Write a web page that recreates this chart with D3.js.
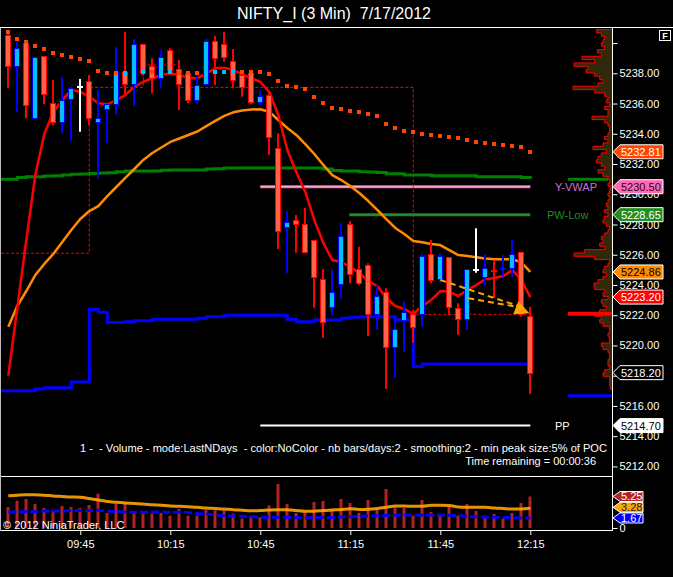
<!DOCTYPE html>
<html><head><meta charset="utf-8">
<script src="https://cdn.jsdelivr.net/npm/d3@7/dist/d3.min.js"></script>
<style>
html,body{margin:0;padding:0;background:#000;overflow:hidden}
svg{display:block}
text{font-family:"Liberation Sans",Arial,Helvetica,sans-serif}
</style></head><body>
<svg id="chart" width="673" height="577"></svg>
<script>
// ---------------- DATA ----------------
const title = "NIFTY_I (3 Min)  7/17/2012";
const barTimes = ["09:21","09:24","09:27","09:30","09:33","09:36","09:39","09:42","09:45","09:48","09:51","09:54","09:57",
"10:00","10:03","10:06","10:09","10:12","10:15","10:18","10:21","10:24","10:27","10:30","10:33","10:36","10:39","10:42","10:45","10:48","10:51","10:54","10:57",
"11:00","11:03","11:06","11:09","11:12","11:15","11:18","11:21","11:24","11:27","11:30","11:33","11:36","11:39","11:42","11:45","11:48","11:51","11:54","11:57",
"12:00","12:03","12:06","12:09","12:12","12:15"];
const openP = [5240.53,5238.50,5239.98,5235.02,5239.14,5236.02,5234.76,5236.30,5237.07,5237.49,
5234.80,5235.62,5235.95,5238.11,5237.27,5239.92,5238.50,5237.71,5239.52,5238.26,
5238.00,5236.23,5237.27,5240.14,5239.92,5238.81,5237.89,5238.00,5236.12,5236.56,
5233.04,5227.85,5228.30,5228.03,5226.98,5224.40,5222.52,5224.04,5228.03,5225.04,
5225.32,5222.06,5223.52,5219.88,5221.68,5222.06,5222.06,5226.03,5224.38,5225.83,
5222.46,5221.75,5224.99,5224.55,5225.01,5225.03,5225.14,5226.16,5221.95];
const highP = [5240.75,5240.09,5240.14,5239.10,5239.14,5237.56,5237.78,5237.11,5237.62,5237.89,
5236.90,5235.95,5239.72,5240.75,5240.27,5239.92,5238.99,5239.54,5239.65,5238.88,
5238.11,5237.89,5240.27,5240.49,5240.75,5239.61,5238.11,5238.22,5236.90,5236.78,
5234.03,5228.89,5228.63,5229.11,5226.98,5225.06,5225.06,5228.08,5228.23,5226.53,
5225.43,5224.00,5223.78,5221.68,5222.94,5222.35,5226.03,5226.98,5226.10,5225.83,
5222.79,5225.04,5227.75,5226.03,5225.65,5225.98,5227.02,5226.16,5222.56];
const lowP = [5237.01,5235.42,5235.02,5235.02,5235.95,5234.58,5234.03,5233.54,5234.14,5234.58,
5231.06,5233.37,5235.29,5236.56,5235.86,5237.89,5236.68,5237.05,5238.11,5235.57,
5236.02,5235.97,5237.23,5237.23,5238.77,5237.01,5236.45,5235.95,5235.90,5232.60,
5226.38,5224.81,5226.13,5226.10,5222.50,5220.51,5222.01,5223.05,5224.11,5224.00,
5220.63,5221.02,5217.12,5217.87,5219.59,5220.18,5221.24,5224.11,5224.11,5222.01,
5220.70,5221.02,5224.81,5224.00,5223.16,5224.55,5224.55,5221.90,5216.79];
const closeP = [5238.50,5239.65,5235.90,5239.06,5236.63,5234.76,5236.21,5237.01,5237.07,5235.02,
5235.02,5235.95,5238.11,5237.27,5239.92,5238.11,5237.67,5239.06,5238.22,5237.29,
5236.23,5237.23,5240.14,5239.03,5239.06,5237.56,5237.11,5236.12,5236.52,5233.81,
5227.59,5228.15,5228.01,5226.20,5224.55,5221.57,5223.52,5227.24,5224.71,5224.11,
5222.06,5223.29,5219.88,5221.07,5222.23,5221.24,5225.94,5224.31,5225.94,5222.56,
5221.73,5225.04,5224.99,5225.14,5224.97,5225.09,5226.03,5222.06,5218.20];
const fastMA = [5218.00,5222.48,5226.97,5231.27,5233.99,5235.44,5236.23,5236.90,5236.78,5236.45,
5236.02,5235.95,5236.23,5236.56,5237.11,5237.44,5237.67,5237.89,5238.00,5237.89,
5237.71,5237.67,5238.00,5238.33,5238.37,5238.22,5237.93,5237.67,5237.44,5236.76,
5235.24,5232.93,5231.47,5230.15,5228.30,5226.78,5225.65,5225.52,5225.19,5224.79,
5224.26,5223.93,5223.14,5222.61,5222.41,5222.08,5222.61,5223.01,5223.60,5223.56,
5223.27,5223.67,5224.00,5224.38,5224.46,5224.59,5224.99,5224.33,5223.20];
const slowMA = [5221.24,5222.61,5223.60,5224.66,5225.39,5226.05,5226.84,5227.64,5228.36,5228.89,
5229.22,5229.88,5230.48,5231.08,5231.67,5232.27,5232.73,5233.09,5233.46,5233.69,
5233.92,5234.15,5234.51,5234.85,5235.18,5235.42,5235.54,5235.61,5235.62,5235.46,
5234.91,5234.38,5233.92,5233.32,5232.66,5231.94,5231.27,5230.94,5230.55,5230.08,
5229.55,5228.96,5228.36,5227.77,5227.37,5226.91,5226.82,5226.71,5226.64,5226.31,
5225.98,5225.92,5225.83,5225.75,5225.70,5225.70,5225.70,5225.49,5224.86];
const dotSeries = [5240.71,5240.27,5240.05,5239.83,5239.61,5239.36,5239.21,5239.08,5238.95,5238.83,
5238.17,5238.04,5238.04,5238.04,5238.04,5238.07,5238.07,5238.09,5238.09,5238.04,
5238.04,5238.04,5238.07,5238.09,5238.09,5238.09,5238.09,5238.09,5238.09,5237.95,
5237.49,5237.16,5237.11,5236.96,5236.45,5236.06,5235.72,5235.64,5235.53,5235.46,
5235.33,5235.20,5234.65,5234.38,5234.20,5234.14,5234.01,5233.94,5233.87,5233.79,
5233.72,5233.61,5233.48,5233.39,5233.34,5233.28,5233.21,5233.13,5232.81];
const dotUpIdx = [13,14,15,17,18,22,23,24,25];
const greenStep = [5230.99,5231.10,5231.16,5231.16,5231.21,5231.23,5231.27,5231.32,5231.34,5231.37,
5231.41,5231.43,5231.49,5231.54,5231.54,5231.54,5231.54,5231.58,5231.60,5231.60,
5231.60,5231.60,5231.67,5231.69,5231.74,5231.74,5231.74,5231.74,5231.74,5231.74,
5231.74,5231.74,5231.74,5231.74,5231.74,5231.67,5231.57,5231.54,5231.54,5231.49,
5231.47,5231.44,5231.36,5231.36,5231.27,5231.27,5231.27,5231.23,5231.23,5231.23,
5231.23,5231.23,5231.16,5231.16,5231.16,5231.16,5231.16,5231.10,5231.03];
const blueStep = [5217.01,5217.01,5217.01,5217.12,5217.21,5217.21,5217.21,5217.58,5217.58,5222.39,
5222.19,5221.51,5221.51,5221.57,5221.64,5221.64,5221.73,5221.73,5221.73,5221.73,
5221.73,5221.80,5221.90,5221.90,5221.99,5221.99,5221.99,5221.99,5221.99,5221.99,
5221.99,5221.73,5221.57,5221.57,5221.68,5221.68,5221.68,5221.80,5221.86,5221.90,
5221.90,5221.90,5221.90,5221.68,5221.68,5218.60,5218.77,5218.77,5218.77,5218.77,
5218.77,5218.77,5218.77,5218.77,5218.77,5218.77,5218.77,5218.77,5218.77];
const rangeStep = [5226.10,5226.10,5226.10,5226.10,5226.10,5226.10,5226.10,5226.10,5226.10,5237.07,
5237.07,5237.07,5237.07,5237.07,5237.07,5238.55,5238.55,5238.55,5238.55,5237.07,
5237.07,5237.07,5237.07,5237.07,5237.07,5237.07,5237.07,5237.07,5237.07,5237.07,
5237.07,5237.07,5237.07,5237.07,5237.07,5237.07,5237.07,5237.07,5237.07,5237.07,
5237.07,5237.07,5237.07,5237.07,5237.07,5222.06,5222.06,5222.06,5222.06,5222.06,
5222.06,5222.06,5222.06,5222.06,5222.06,5222.06,5222.06,5222.06,5222.06];
const volume = [3.5,4.55,4.83,4.0,3.33,2.95,3.67,3.5,3.33,3.83,
5.72,2.5,4.0,4.33,2.6,2.4,2.4,2.5,2.06,3.2,
2.06,2.06,3.06,2.95,2.95,2.4,1.56,2.06,1.78,3.78,
7.33,4.0,2.5,2.78,4.33,4.5,2.95,4.83,4.17,2.5,
4.67,3.06,6.5,3.44,3.33,2.06,4.67,2.67,2.06,3.78,
2.06,4.0,2.83,2.06,2.33,1.56,2.5,4.17,5.25];
const volAvgOrange = [5.38,5.47,5.53,5.53,5.47,5.33,5.25,5.17,5.12,4.92,
4.67,4.42,4.28,4.17,4.08,4.0,3.88,3.78,3.67,3.62,
3.53,3.45,3.33,3.25,3.17,3.05,2.97,2.88,2.92,3.0,
3.05,3.05,2.92,2.78,2.78,2.92,3.0,3.08,3.22,3.08,
3.12,3.25,3.45,3.67,3.67,3.62,3.62,3.78,3.78,3.75,
3.5,3.45,3.45,3.45,3.33,3.25,3.17,3.17,3.28];
const volAvgBlue = [2.62,2.7,2.7,2.7,2.83,2.83,2.83,2.92,2.92,2.92,
2.95,2.83,2.75,2.67,2.62,2.62,2.67,2.67,2.62,2.62,
2.58,2.42,2.33,2.17,2.05,2.0,1.95,1.88,1.83,1.78,
1.78,1.78,1.72,1.67,1.75,1.75,1.75,1.83,1.88,1.95,
2.0,2.05,2.08,2.12,2.17,2.17,2.17,2.17,2.17,2.12,
2.05,1.97,1.88,1.83,1.78,1.75,1.72,1.67,1.67];
// volume profile (relative volume per price row, from top row down)
const profileTop = 5240.78, profileStep = 0.2205;
const profileVol = [47,32,22,27,32,22,44,32,90,52,114,72,77,52,37,27,42,117,52,22,
12,17,7,22,12,12,60,22,12,7,7,12,22,12,27,57,17,32,42,47,
32,22,42,27,12,7,12,4,7,12,7,12,17,12,22,12,22,27,17,7,
12,22,32,27,37,22,82,114,52,7,12,22,27,17,27,42,54,52,22,27,
12,32,27,17,37,52,32,37,27,7,7,12,7,7,32,27,12,7,7,12,
12,7,22,27,7,7,7,4];
const profileMarkPrices = [5230.99, 5222.10, 5216.68];
const profileMarkColors = ["#008000", "#ff0000", "#0000ff"];
// horizontal levels
const levelNames = ["Y-VWAP", "PW-Low", "PP"];
const levelPrices = [5230.50, 5228.65, 5214.70];
const levelFrom = ["10:45", "11:15", "10:45"];
const levelTo = ["12:15", "12:15", "12:15"];
// drawn arrows (bar index, price)
const arrow1 = [[48.0, 5224.33], [56.9, 5222.56]];
const arrow2 = [[51.1, 5223.12], [56.9, 5222.52]];
const arrowHead = [[56.67, 5222.94], [56.11, 5222.06], [57.89, 5222.13]];
const priceTicks = [5212,5214,5216,5218,5220,5222,5224,5226,5228,5230,5232,5234,5236,5238,5240];
const xTickLabels = ["09:45","10:15","10:45","11:15","11:45","12:15"];
const infoLine = "1 -  - Volume - mode:LastNDays  - color:NoColor - nb bars/days:2 - smoothing:2 - min peak size:5% of POC";
const timeLine = "Time remaining = 00:00:36";
const copyright = "\u00a9 2012 NinjaTrader, LLC";

// ---------------- CHART ----------------
const svg = d3.select("#chart");
svg.append("rect").attr("width",673).attr("height",577).attr("fill","#000");
const FONT = '"Liberation Sans",Arial,Helvetica,sans-serif';

const parseT = d3.timeParse("%H:%M");
const times = barTimes.map(parseT);
const n = times.length;
const xt = d3.scaleTime().domain([times[0], times[n-1]]).range([8.3, 530.3]);
const xi = d3.scaleLinear().domain([0, n-1]).range(xt.range());
const y = d3.scaleLinear().domain([5212, 5238]).range([466.4, 73.3]);
const yv = d3.scaleLinear().domain([0, 8.5]).range([528, 477]);
const xProf = d3.scaleLinear().domain([0, 120]).range([612, 572]);

const defs = svg.append("defs");
defs.append("clipPath").attr("id","pc").append("rect").attr("x",1).attr("y",28).attr("width",611).attr("height",448);
defs.append("clipPath").attr("id","vc").append("rect").attr("x",1).attr("y",477).attr("width",611).attr("height",53);

// title
svg.append("text").attr("x",334).attr("y",19).attr("text-anchor","middle").style("white-space","pre")
  .attr("fill","#fff").attr("font-size",16).text(title);

const P = svg.append("g").attr("clip-path","url(#pc)");

// volume profile
const rows = profileVol.map((v,k)=>({v, p: profileTop - k*profileStep}));
const profPts = rows.map(r => [xProf(r.v), y(r.p + profileStep/2)]);
profPts.push([xProf(rows[rows.length-1].v), y(rows[rows.length-1].p - profileStep/2)]);
P.append("path").attr("d", d3.area().y(d=>d[1]).x0(612).x1(d=>d[0]).curve(d3.curveStepBefore)(profPts))
  .attr("fill","#33290a");
P.append("path").attr("d", d3.line().curve(d3.curveStepBefore)([[612, profPts[0][1]], ...profPts, [612, profPts[profPts.length-1][1]]]))
  .attr("fill","none").attr("stroke","#ff0000").attr("stroke-width",1);
profileMarkPrices.forEach((p,k)=>{
  P.append("line").attr("x1",568).attr("x2",k===0?608:612).attr("y1",y(p)).attr("y2",y(p))
   .attr("stroke",profileMarkColors[k]).attr("stroke-width",k===1?4:3);
});

// level lines
const levelColors = ["#ff69b4", "#228b22", "#ffffff"];
levelNames.forEach((nm,k)=>{
  P.append("line").attr("x1",xt(parseT(levelFrom[k]))-(k===1?1:0)).attr("x2",xt(parseT(levelTo[k])))
   .attr("y1",y(levelPrices[k])).attr("y2",y(levelPrices[k]))
   .attr("stroke",levelColors[k]).attr("stroke-width",k===2?2:3);
});
P.append("line").attr("x1",xt(parseT(levelFrom[0]))).attr("x2",xt(parseT(levelTo[0])))
   .attr("y1",y(levelPrices[0])).attr("y2",y(levelPrices[0])).attr("stroke","#ffb0d8").attr("stroke-width",1);

// helpers for step series with left extension
function stepPath(arr){
  const pts = [[1, y(arr[0])]].concat(arr.map((v,i)=>[xi(i), y(v)]));
  return d3.line().curve(d3.curveStepAfter)(pts);
}
P.append("path").attr("d", stepPath(rangeStep)).attr("fill","none")
  .attr("stroke","#ff0000").attr("stroke-width",1).attr("stroke-dasharray","3,2");
P.append("path").attr("d", stepPath(greenStep)).attr("fill","none")
  .attr("stroke","#008000").attr("stroke-width",3);
P.append("path").attr("d", stepPath(blueStep)).attr("fill","none")
  .attr("stroke","#0000ff").attr("stroke-width",3);

const maLine = d3.line().x((d,i)=>xi(i)).y(d=>y(d));
P.append("path").attr("d", maLine(slowMA)).attr("fill","none").attr("stroke","#ff8c00").attr("stroke-width",2.5).attr("stroke-linejoin","round");
P.append("path").attr("d", maLine(fastMA)).attr("fill","none").attr("stroke","#ff0000").attr("stroke-width",2.5).attr("stroke-linejoin","round");

// candles
const C = P.append("g");
openP.forEach((o,i)=>{
  const c = closeP[i], h = highP[i], l = lowP[i];
  const cx = Math.round(xi(i));
  const doji = o === c;
  const up = c > o;
  const wickCol = doji ? "#ffffff" : (up ? "#0000ff" : "#ff0000");
  C.append("line").attr("x1",cx).attr("x2",cx).attr("y1",y(h)).attr("y2",y(l))
    .attr("stroke",wickCol).attr("stroke-width",2);
  if (doji) {
    C.append("line").attr("x1",cx-3).attr("x2",cx+3).attr("y1",Math.round(y(o))).attr("y2",Math.round(y(o)))
      .attr("stroke","#fff").attr("stroke-width",2);
  } else {
    const top = Math.round(y(Math.max(o,c)));
    const bot = Math.round(y(Math.min(o,c)));
    C.append("rect").attr("x",cx-2.5).attr("y",top+0.5).attr("width",5).attr("height",Math.max(1,bot-top))
      .attr("fill", up ? "#00bfff" : "#ff6347").attr("stroke", up ? "#0000ff" : "#ff0000").attr("stroke-width",1);
  }
});

// dots
P.selectAll("rect.dot").data(dotSeries).enter().append("rect").attr("class","dot")
  .attr("x",(d,i)=>Math.round(xi(i))-2).attr("y",d=>Math.round(y(d))-2).attr("width",4).attr("height",4)
  .attr("fill",(d,i)=> dotUpIdx.includes(i) ? "#00bfff" : "#ff4500");

// arrows
const ap = d => [xi(d[0]), y(d[1])];
[arrow1, arrow2].forEach(a=>{
  P.append("path").attr("d", d3.line()(a.map(ap))).attr("stroke","#ffa500").attr("stroke-width",2)
   .attr("stroke-dasharray","6,4").attr("fill","none");
});
P.append("path").attr("d", d3.line()(arrowHead.map(ap))+"Z").attr("fill","#ffa500");

// level labels
const lblX = [555, 547, 555];
const lblCol = ["#d070c8", "#228b22", "#ffffff"];
levelNames.forEach((nm,k)=>{
  svg.append("text").attr("x",lblX[k]).attr("y",y(levelPrices[k])+4).attr("fill",lblCol[k])
    .attr("font-size",11).text(nm);
});

// info texts
svg.append("text").attr("x",607).attr("y",452).attr("text-anchor","end").attr("fill","#fff").style("white-space","pre")
  .attr("font-size",11).attr("textLength",527).attr("lengthAdjust","spacingAndGlyphs").text(infoLine);
svg.append("text").attr("x",596).attr("y",465).attr("text-anchor","end").attr("fill","#fff")
  .attr("font-size",11).text(timeLine);

// volume panel
const V = svg.append("g").attr("clip-path","url(#vc)");
V.selectAll("rect.vb").data(volume).enter().append("rect").attr("class","vb")
  .attr("x",(d,i)=>Math.round(xi(i))-1.5).attr("width",3)
  .attr("y",d=>yv(d)).attr("height",d=>yv(0)-yv(d)).attr("fill","#b22222");
V.append("path").attr("d", d3.line().x((d,i)=>xi(i)).y(d=>yv(d)).curve(d3.curveMonotoneX)(volAvgBlue))
  .attr("fill","none").attr("stroke","#0000ff").attr("stroke-width",3).attr("stroke-dasharray","8,3");
V.append("path").attr("d", d3.line().x((d,i)=>xi(i)).y(d=>yv(d)).curve(d3.curveMonotoneX)(volAvgOrange))
  .attr("fill","none").attr("stroke","#ffa500").attr("stroke-width",3).attr("stroke-opacity",0.9);
svg.append("text").attr("x",3).attr("y",529).attr("fill","#fff").attr("font-size",11).text(copyright);

// frame lines
const frame = svg.append("g").attr("stroke","#fff").attr("stroke-width",1);
frame.append("line").attr("x1",0).attr("x2",673).attr("y1",27.5).attr("y2",27.5);
frame.append("line").attr("x1",0).attr("x2",612).attr("y1",476.5).attr("y2",476.5);
frame.append("line").attr("x1",0).attr("x2",612).attr("y1",530.5).attr("y2",530.5);
frame.append("line").attr("x1",612.5).attr("x2",612.5).attr("y1",27.5).attr("y2",531);
frame.append("line").attr("x1",0.5).attr("x2",0.5).attr("y1",27.5).attr("y2",531).attr("stroke","#bbb");

// right price axis
const axR = svg.append("g").attr("transform","translate(612.5,0)")
  .call(d3.axisRight(y).tickValues(priceTicks).tickSize(5).tickPadding(2)
    .tickFormat(d => d > 5239 ? "" : d3.format(".2f")(d)));
axR.select(".domain").remove();
axR.selectAll("line").attr("stroke","#fff");
axR.selectAll("text").attr("fill","#fff").attr("font-size",11).attr("font-family",FONT);

// volume axis
const axV = svg.append("g").attr("transform","translate(612.5,0)")
  .call(d3.axisRight(yv).tickValues([0]).tickSize(5).tickPadding(2));
axV.select(".domain").remove();
axV.selectAll("line").attr("stroke","#fff");
axV.selectAll("text").attr("fill","#fff").attr("font-size",11).attr("font-family",FONT);

// x axis
const axX = svg.append("g").attr("transform","translate(0,531)")
  .call(d3.axisBottom(xt).tickValues(xTickLabels.map(parseT)).tickSize(4).tickPadding(5)
    .tickFormat(d3.timeFormat("%H:%M")));
axX.select(".domain").remove();
axX.selectAll("line").attr("stroke","#fff");
axX.selectAll("text").attr("fill","#fff").attr("font-size",11).attr("font-family",FONT);

// value boxes
function valBox(yc, txt, fill, tcol, w, h, fs){
  const x0 = 613;
  const pts = [[x0,yc],[x0+7,yc-h/2],[x0+w,yc-h/2],[x0+w,yc+h/2],[x0+7,yc+h/2]];
  svg.append("polygon").attr("points", pts.map(p=>p.join(",")).join(" "))
    .attr("fill",fill).attr("stroke","#fff").attr("stroke-width",1);
  svg.append("text").attr("x",x0+8).attr("y",yc).attr("dy","0.36em").attr("fill",tcol)
    .attr("font-size",fs).text(txt);
}
const fmt2 = d3.format(".2f");
valBox(y(dotSeries[n-1]), fmt2(dotSeries[n-1]), "#ff4500", "#fff", 50, 14, 11);
valBox(y(levelPrices[0]), fmt2(levelPrices[0]), "#ff69b4", "#300020", 50, 14, 11);
valBox(y(levelPrices[1]), fmt2(levelPrices[1]), "#228b22", "#fff", 50, 14, 11);
valBox(y(slowMA[n-1]), fmt2(slowMA[n-1]), "#ff8c00", "#000", 50, 14, 11);
valBox(y(fastMA[n-1]), fmt2(fastMA[n-1]), "#ff0000", "#fff", 50, 14, 11);
valBox(y(closeP[n-1]), fmt2(closeP[n-1]), "#000", "#fff", 50, 14, 11);
valBox(y(levelPrices[2]), fmt2(levelPrices[2]), "#ffffff", "#000", 50, 14, 11);
valBox(yv(volume[n-1]), fmt2(volume[n-1]), "#b22222", "#fff", 30, 10, 11);
valBox(yv(volAvgOrange[n-1]) - 1, fmt2(volAvgOrange[n-1]), "#ffa500", "#222", 30, 10, 11);
valBox(yv(volAvgBlue[n-1]), fmt2(volAvgBlue[n-1]), "#0000ff", "#fff", 30, 10, 11);

// F box
svg.append("rect").attr("x",659.5).attr("y",30.5).attr("width",11).attr("height",10)
  .attr("fill","#000").attr("stroke","#fff");
svg.append("text").attr("x",665).attr("y",39).attr("text-anchor","middle").attr("fill","#fff")
  .attr("font-size",9).attr("font-weight","bold").text("F");
</script>
</body></html>
